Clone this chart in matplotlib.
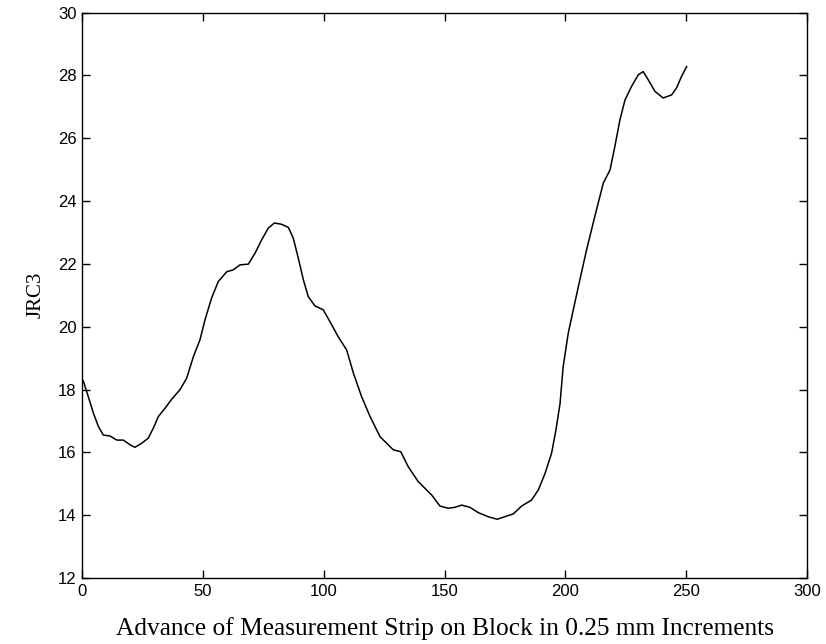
import matplotlib
matplotlib.use("Agg")
import matplotlib.pyplot as plt

advance = [0.5, 2.6, 4.7, 6.8, 8.8, 11.6, 14.4, 17.1, 19.9, 21.9, 24.7, 27.4, 29.5, 31.6,
           34.3, 37.1, 40.5, 43.3, 46.1, 48.8, 50.9, 53.6, 56.4, 59.9, 62.6, 65.4, 68.8,
           71.6, 74.3, 77.1, 79.6, 82.6, 85.4, 87.4, 89.5, 91.6, 93.6, 96.4, 99.8, 102.6,
           106, 109.5, 112.3, 115.7, 119.2, 123.3, 128.8, 131.9, 135, 139.1, 144.7, 148.1,
           151.5, 154.3, 157.1, 160.5, 164, 168.1, 171.8, 175.7, 178.5, 181.9, 186, 188.8,
           191.6, 194.3, 196.1, 197.8, 199.1, 201.2, 203.3, 206, 208.8, 212.2, 215.7,
           218.5, 220.5, 222.6, 224.7, 227.4, 230.2, 232.2, 234.3, 237.1, 240.5, 244,
           246, 248.1, 250.2]
jrc3 = [18.28, 17.77, 17.25, 16.82, 16.55, 16.52, 16.39, 16.39, 16.24, 16.16, 16.29,
        16.45, 16.77, 17.14, 17.4, 17.69, 17.99, 18.36, 19.05, 19.58, 20.22, 20.91,
        21.44, 21.75, 21.81, 21.97, 21.99, 22.34, 22.76, 23.14, 23.3, 23.26, 23.16,
        22.82, 22.18, 21.49, 20.96, 20.66, 20.54, 20.16, 19.68, 19.26, 18.52, 17.77,
        17.14, 16.5, 16.08, 16.02, 15.54, 15.07, 14.64, 14.29, 14.22, 14.25, 14.32,
        14.25, 14.08, 13.95, 13.87, 13.97, 14.04, 14.29, 14.48, 14.8, 15.33, 15.97,
        16.71, 17.55, 18.73, 19.79, 20.54, 21.49, 22.45, 23.51, 24.57, 24.99, 25.74,
        26.59, 27.22, 27.65, 28.02, 28.12, 27.86, 27.49, 27.28, 27.38, 27.6, 27.97,
        28.28]

x_ticks = [0, 50, 100, 150, 200, 250, 300]
y_ticks = [12, 14, 16, 18, 20, 22, 24, 26, 28, 30]

fig = plt.figure(figsize=(8.26, 6.44), dpi=100)
ax = fig.add_axes([0.0993, 0.1025, 0.8777, 0.878])
ax.plot(advance, jrc3, color="black", linewidth=1.1, solid_joinstyle="round")
ax.set_xlim(0, 300)
ax.set_ylim(12, 30)
ax.set_xticks(x_ticks)
ax.set_yticks(y_ticks)
ax.tick_params(direction="in", length=6, width=1, top=True, right=True,
               labelsize=12, pad=4)
for lab in ax.get_xticklabels() + ax.get_yticklabels():
    lab.set_fontfamily("Liberation Sans")
for s in ax.spines.values():
    s.set_linewidth(1.0)
ax.set_xlabel("Advance of Measurement Strip on Block in 0.25 mm Increments",
              fontfamily="Liberation Serif", fontsize=18.3, labelpad=13)
ax.set_ylabel("JRC3", fontfamily="Liberation Serif", fontsize=15, labelpad=9)
fig.savefig("out.png", dpi=100)
